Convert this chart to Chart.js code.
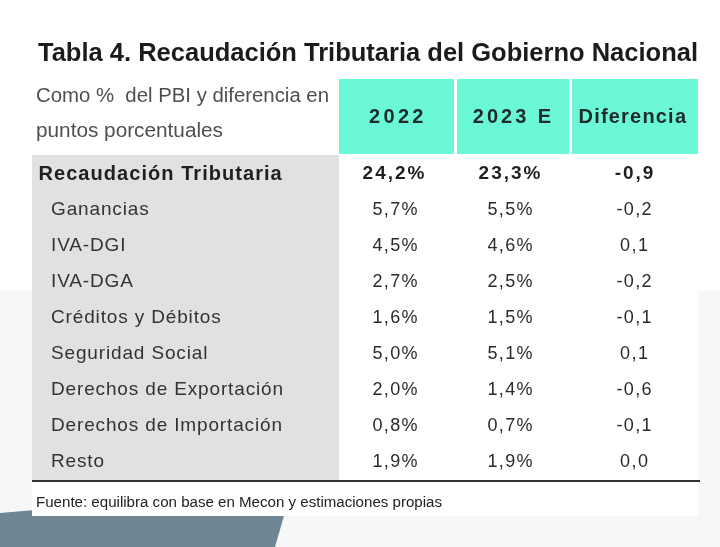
<!DOCTYPE html>
<html>
<head>
<meta charset="utf-8">
<script src="https://cdn.jsdelivr.net/npm/chart.js@4.4.0/dist/chart.umd.min.js"></script>
<style>
html,body{margin:0;padding:0;background:#fff;}
canvas{display:block;}
</style>
</head>
<body>
<canvas id="c" width="720" height="547"></canvas>
<script>
// ---- DATA ----
const title = 'Tabla 4. Recaudación Tributaria del Gobierno Nacional';
const subtitleLines = ['Como %  del PBI y diferencia en', 'puntos porcentuales'];
const columns = ['2022', '2023 E', 'Diferencia'];
const totalLabel = 'Recaudación Tributaria';
const total2022 = 24.2;
const total2023 = 23.3;
const totalDiff = -0.9;
const categories = ['Ganancias', 'IVA-DGI', 'IVA-DGA', 'Créditos y Débitos', 'Seguridad Social',
  'Derechos de Exportación', 'Derechos de Importación', 'Resto'];
const values2022 = [5.7, 4.5, 2.7, 1.6, 5.0, 2.0, 0.8, 1.9];
const values2023 = [5.5, 4.6, 2.5, 1.5, 5.1, 1.4, 0.7, 1.9];
const diffs = [-0.2, 0.1, -0.2, -0.1, 0.1, -0.6, -0.1, 0.0];
const source = 'Fuente: equilibra con base en Mecon y estimaciones propias';

// ---- LAYOUT / STYLE (in scale units) ----
const FONT = '"Liberation Sans", Arial, Helvetica, sans-serif';
const colEdges = [32, 339, 455.5, 570.5, 698];
const headerTop = 79, headerBottom = 155;
const rowBase0 = 178.5, rowStep = 36.1;
const tableBottom = 480.5;
const teal = '#6af8d7';
const grey = '#e1e1e1';

const fmtPct = v => v.toFixed(1).replace('.', ',') + '%';
const fmtDiff = v => v.toFixed(1).replace('.', ',');

function drawFit(ctx, text, x, y, font, targetW, color) {
  ctx.save();
  ctx.font = font;
  ctx.fillStyle = color;
  ctx.textAlign = 'left';
  ctx.textBaseline = 'alphabetic';
  const w = ctx.measureText(text).width;
  ctx.translate(x, y);
  ctx.scale(targetW / w, 1);
  ctx.fillText(text, 0, 0);
  ctx.restore();
}
function drawText(ctx, text, x, y, font, color, align, spacing) {
  ctx.save();
  ctx.font = font;
  ctx.fillStyle = color;
  ctx.textAlign = align;
  ctx.textBaseline = 'alphabetic';
  ctx.letterSpacing = (spacing || 0) + 'px';
  let dx = 0;
  if (align === 'center' && spacing) dx = spacing / 2;
  ctx.fillText(text, x + dx, y);
  ctx.restore();
}

const tablePlugin = {
  id: 'tablePlugin',
  beforeDraw(chart) {
    const ctx = chart.ctx;
    const X = v => chart.scales.x.getPixelForValue(v);
    const Y = v => chart.scales.y.getPixelForValue(v);
    const rect = (x0, y0, x1, y1, col) => {
      ctx.fillStyle = col;
      ctx.fillRect(X(x0), Y(y0), X(x1) - X(x0), Y(y1) - Y(y0));
    };
    // page background
    rect(0, 0, 720, 547, '#ffffff');
    rect(0, 291, 720, 547, '#f7f7f7');
    // decorative slate shape
    ctx.fillStyle = '#6f8794';
    ctx.beginPath();
    ctx.moveTo(X(0), Y(513));
    ctx.lineTo(X(292), Y(488));
    ctx.lineTo(X(275), Y(547));
    ctx.lineTo(X(0), Y(547));
    ctx.closePath();
    ctx.fill();
    // table white body + footnote band
    rect(colEdges[0], headerTop, colEdges[4], 516, '#ffffff');
    // header cells
    for (let c = 0; c < columns.length; c++) {
      const x0 = colEdges[c + 1] + (c === 0 ? 0 : 1.5);
      const x1 = colEdges[c + 2] - (c === columns.length - 1 ? 0 : 1.5);
      rect(x0, headerTop, x1, headerBottom - 1, teal);
    }
    // grey label column
    rect(colEdges[0], headerBottom, colEdges[1], tableBottom, grey);
    // bottom rule
    ctx.fillStyle = '#2e3233';
    ctx.fillRect(X(32), Y(480), X(700) - X(32), 2);
  },
  afterDraw(chart) {
    const ctx = chart.ctx;
    const X = v => chart.scales.x.getPixelForValue(v);
    const Y = v => chart.scales.y.getPixelForValue(v);
    // title
    drawFit(ctx, title, X(38), Y(61), 'bold 25px ' + FONT, X(698) - X(38), '#1b1b1b');
    // subtitle
    drawFit(ctx, subtitleLines[0], X(36), Y(102), '20px ' + FONT, X(329) - X(36), '#4f4f4f');
    drawFit(ctx, subtitleLines[1], X(36), Y(137), '20px ' + FONT, X(223) - X(36), '#4f4f4f');
    // header labels
    const hdrSpacing = [3.3, 3.0, 1.2];
    for (let c = 0; c < columns.length; c++) {
      const cx = (colEdges[c + 1] + colEdges[c + 2]) / 2;
      drawText(ctx, columns[c], X(cx - (c === 2 ? 2 : 1)), Y(122.5), 'bold 20px ' + FONT, '#1d2b29', 'center', hdrSpacing[c]);
    }
    const colCenters = [395, 510, 634];
    // total row
    const yb0 = rowBase0;
    drawText(ctx, totalLabel, X(38.5), Y(yb0 + 1), 'bold 20px ' + FONT, '#1f1f1f', 'left', 1.05);
    drawText(ctx, fmtPct(total2022), X(colCenters[0] - 1.5), Y(yb0), 'bold 19px ' + FONT, '#1f1f1f', 'center', 2);
    drawText(ctx, fmtPct(total2023), X(colCenters[1] - 0.5), Y(yb0), 'bold 19px ' + FONT, '#1f1f1f', 'center', 2);
    drawText(ctx, fmtDiff(totalDiff), X(colCenters[2]), Y(yb0), 'bold 19px ' + FONT, '#1f1f1f', 'center', 2);
    // detail rows
    for (let i = 0; i < categories.length; i++) {
      const yb = rowBase0 + rowStep * (i + 1);
      drawText(ctx, categories[i], X(51), Y(yb), '19px ' + FONT, '#333333', 'left', 0.85);
      drawText(ctx, fmtPct(values2022[i]), X(colCenters[0]), Y(yb), '18px ' + FONT, '#2a2a2a', 'center', 1.4);
      drawText(ctx, fmtPct(values2023[i]), X(colCenters[1]), Y(yb), '18px ' + FONT, '#2a2a2a', 'center', 1.4);
      drawText(ctx, fmtDiff(diffs[i]), X(colCenters[2]), Y(yb), '18px ' + FONT, '#2a2a2a', 'center', 1.4);
    }
    // source
    drawFit(ctx, source, X(36), Y(506.5), '14px ' + FONT, X(442) - X(36), '#222222');
  }
};

new Chart(document.getElementById('c').getContext('2d'), {
  type: 'scatter',
  data: { datasets: [{ data: [], pointRadius: 0 }] },
  options: {
    responsive: false,
    animation: false,
    events: [],
    layout: { padding: 0 },
    plugins: { legend: { display: false }, tooltip: { enabled: false } },
    scales: {
      x: { type: 'linear', min: 0, max: 720, display: false },
      y: { type: 'linear', min: 0, max: 547, reverse: true, display: false }
    }
  },
  plugins: [tablePlugin]
});
</script>
</body>
</html>
